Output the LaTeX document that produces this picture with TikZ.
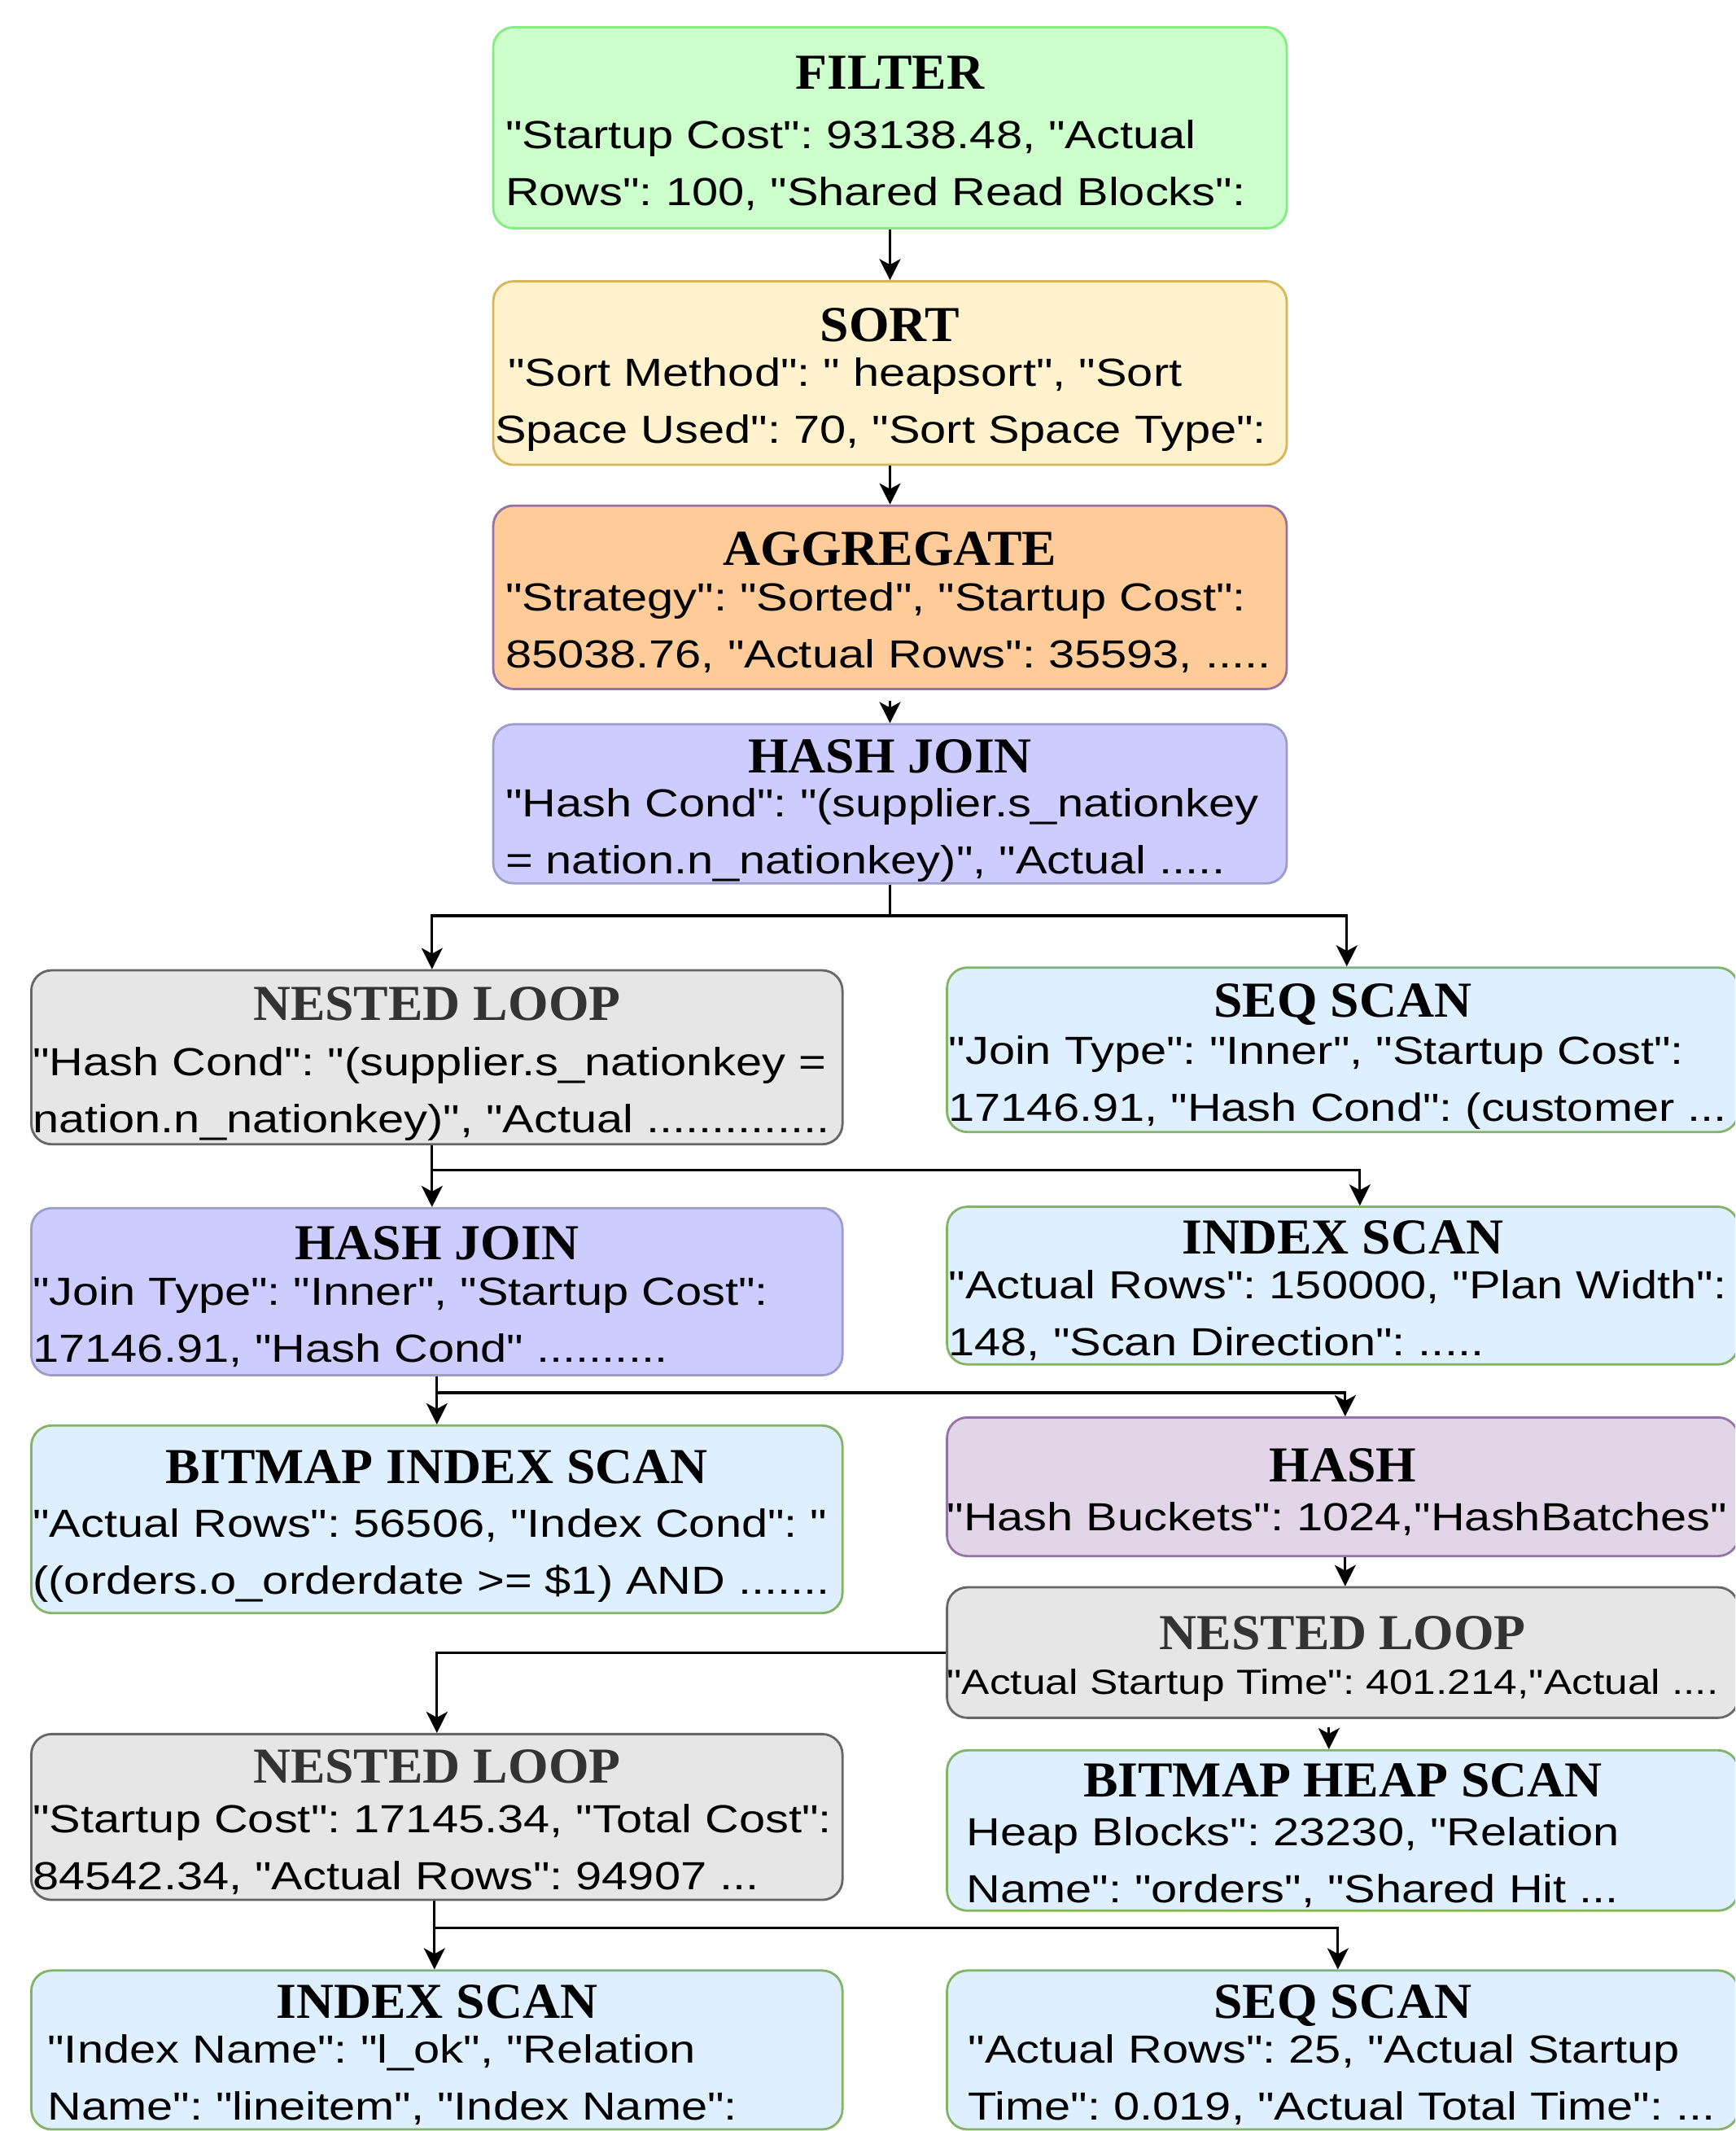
\documentclass[tikz,border=0pt]{standalone}
\usepackage{fontspec}
\usepackage{tikz}
\usetikzlibrary{arrows.meta}
\newfontfamily\bodyfont{Liberation Sans}[FakeStretch=1.2, Ligatures=TeXOff]
\newfontfamily\titlefont{Liberation Serif}[FakeStretch=1.03, Ligatures=TeXOff]
\definecolor{filterfill}{HTML}{CCFFCC}
\definecolor{filterline}{HTML}{7FEF7F}
\definecolor{sortfill}{HTML}{FFF2CC}
\definecolor{sortline}{HTML}{D6B656}
\definecolor{aggfill}{HTML}{FFCC99}
\definecolor{aggline}{HTML}{9673A6}
\definecolor{joinfill}{HTML}{CCCCFF}
\definecolor{joinline}{HTML}{9D9DC9}
\definecolor{loopfill}{HTML}{E6E6E6}
\definecolor{loopline}{HTML}{666666}
\definecolor{nltitle}{HTML}{333333}
\definecolor{scanfill}{HTML}{DEEFFF}
\definecolor{scanline}{HTML}{82B366}
\definecolor{hashfill}{HTML}{E1D5E7}
\definecolor{hashline}{HTML}{9673A6}

% title, baseline gap, indent, lines
\newcommand{\optext}[4]{%
  \noindent\makebox[\linewidth]{\rule{0pt}{0.41cm}\smash{\raisebox{-0.065cm}{\titlefont\bfseries\fontsize{17.6pt}{20pt}\selectfont #1}}}\par
  \nointerlineskip\vspace{\dimexpr#2-0.49cm\relax}%
  \noindent\hspace*{#3}\begin{tabular}[t]{@{}l@{}}#4\end{tabular}\par
  \vspace{-0.21cm}\kern0pt}

\tikzset{
    opbox/.style = {
        rectangle, rounded corners=0.25cm, draw,
        line width=0.8pt, inner sep=0pt,
        font=\bodyfont\fontsize{13.7pt}{19.9pt}\selectfont\frenchspacing
    },
    smalltext/.style = {
        font=\bodyfont\fontsize{12.2pt}{19.9pt}\selectfont\frenchspacing
    },
    topop/.style = {opbox, text width=9.75cm},
    leftop/.style = {opbox, text width=9.967cm},
    rightop/.style = {opbox, text width=9.724cm},
    filterc/.style = {fill=filterfill, draw=filterline},
    sortc/.style = {fill=sortfill, draw=sortline},
    aggc/.style = {fill=aggfill, draw=aggline},
    joinc/.style = {fill=joinfill, draw=joinline},
    loopc/.style = {fill=loopfill, draw=loopline},
    scanc/.style = {fill=scanfill, draw=scanline},
    hashc/.style = {fill=hashfill, draw=hashline},
    arrow/.style = {
        -{Stealth[length=0.26cm, width=0.26cm, inset=0.07cm]},
        line width=0.9pt
    }
}

\begin{document}
\begin{tikzpicture}

\useasboundingbox (0,0) rectangle (21.32,-26.18);
\clip (0,0) rectangle (21.32,-26.18);

% main column
\node (filter) [topop, filterc, minimum height=2.47cm] at (10.935,-1.57)
  {\optext{FILTER}{0.80cm}{0.15cm}{"Startup Cost": 93138.48, "Actual\\ Rows": 100, "Shared Read Blocks":}};
\node (sort) [topop, sortc, minimum height=2.254cm] at (10.935,-4.583)
  {\optext{SORT}{0.62cm}{0.02cm}{\hspace*{0.16cm}"Sort Method": " heapsort", "Sort\\ Space Used": 70, "Sort Space Type":}};
\node (aggregate) [topop, aggc, minimum height=2.253cm] at (10.935,-7.338)
  {\optext{AGGREGATE}{0.62cm}{0.15cm}{"Strategy": "Sorted", "Startup Cost":\\ 85038.76, "Actual Rows": 35593, .....}};
\node (hashjoin) [topop, joinc, minimum height=1.954cm] at (10.935,-9.875)
  {\optext{HASH JOIN}{0.61cm}{0.15cm}{"Hash Cond": "(supplier.s\_nationkey\\ = nation.n\_nationkey)", "Actual .....}};

% left column
\node (nestloop) [leftop, loopc, minimum height=2.137cm] at (5.368,-12.989)
  {\optext{\color{nltitle}NESTED LOOP}{0.74cm}{0.02cm}{"Hash Cond": "(supplier.s\_nationkey =\\ nation.n\_nationkey)", "Actual ..............}};
\node (hashjoinb) [leftop, joinc, minimum height=2.053cm] at (5.368,-15.869)
  {\optext{HASH JOIN}{0.62cm}{0.02cm}{"Join Type": "Inner", "Startup Cost":\\ 17146.91, "Hash Cond" ..........}};
\node (bitmapidx) [leftop, scanc, minimum height=2.304cm] at (5.368,-18.665)
  {\optext{BITMAP INDEX SCAN}{0.73cm}{0.02cm}{"Actual Rows": 56506, "Index Cond": "\\ ((orders.o\_orderdate >= \$1) AND .......}};
\node (nestloopc) [leftop, loopc, minimum height=2.037cm] at (5.368,-22.322)
  {\optext{\color{nltitle}NESTED LOOP}{0.67cm}{0.02cm}{"Startup Cost": 17145.34, "Total Cost":\\ 84542.34, "Actual Rows": 94907 ...}};
\node (indexscanb) [leftop, scanc, minimum height=1.952cm] at (5.368,-25.184)
  {\optext{INDEX SCAN}{0.61cm}{0.20cm}{"Index Name": "l\_ok", "Relation\\ Name": "lineitem", "Index Name":}};

% right column
\node (seqscan) [rightop, scanc, minimum height=2.02cm] at (16.498,-12.897)
  {\optext{SEQ SCAN}{0.64cm}{0.02cm}{"Join Type": "Inner", "Startup Cost":\\ 17146.91, "Hash Cond": (customer ...}};
\node (indexscan) [rightop, scanc, minimum height=1.937cm] at (16.498,-15.794)
  {\optext{INDEX SCAN}{0.61cm}{0.02cm}{"Actual Rows": 150000, "Plan Width":\\ 148, "Scan Direction": .....}};
\node (hash) [rightop, hashc, minimum height=1.703cm] at (16.498,-18.265)
  {\optext{HASH}{0.66cm}{0cm}{"Hash Buckets": 1024,"HashBatches"}};
\node (nestloopb) [rightop, loopc, smalltext, minimum height=1.603cm] at (16.498,-20.302)
  {\optext{\color{nltitle}NESTED LOOP}{0.62cm}{0cm}{"Actual Startup Time": 401.214,"Actual ....}};
\node (bitmapheap) [rightop, scanc, minimum height=1.97cm] at (16.498,-22.488)
  {\optext{BITMAP HEAP SCAN}{0.66cm}{0.24cm}{Heap Blocks": 23230, "Relation\\ Name": "orders", "Shared Hit ...}};
\node (seqscanb) [rightop, scanc, minimum height=1.952cm] at (16.498,-25.184)
  {\optext{SEQ SCAN}{0.61cm}{0.26cm}{"Actual Rows": 25, "Actual Startup\\ Time": 0.019, "Actual Total Time": ...}};

\draw [arrow] (filter) -- (sort);
\draw [arrow] (sort) -- (aggregate);
\draw [arrow, shorten <=0.13cm] (aggregate) -- (hashjoin);
\draw [arrow] (hashjoin.south) -- ++(0,-0.384) -| ([xshift=-0.06cm]nestloop.north);
\draw [arrow] (hashjoin.south) -- ++(0,-0.384) -| ([xshift=0.05cm]seqscan.north);
\draw [arrow] ([xshift=-0.06cm]nestloop.south) -- ([xshift=-0.06cm]hashjoinb.north);
\draw [arrow] ([xshift=-0.06cm]nestloop.south) -- ++(0,-0.30) -| ([xshift=0.21cm]indexscan.north);
\draw [arrow] (hashjoinb) -- (bitmapidx);
\draw [arrow] (hashjoinb.south) -- ++(0,-0.20) -| ([xshift=0.03cm]hash.north);
\draw [arrow] ([xshift=0.03cm]hash.south) -- ([xshift=0.03cm]nestloopb.north);
\draw [arrow] (nestloopb.west) -| (nestloopc.north);
\draw [arrow, shorten <=0.1cm] ([xshift=-0.17cm]nestloopb.south) -- ([xshift=-0.17cm]bitmapheap.north);
\draw [arrow] ([xshift=-0.03cm]nestloopc.south) -- ([xshift=-0.03cm]indexscanb.north);
\draw [arrow] ([xshift=-0.03cm]nestloopc.south) -- ++(0,-0.334) -| ([xshift=-0.06cm]seqscanb.north);

\end{tikzpicture}
\end{document}
